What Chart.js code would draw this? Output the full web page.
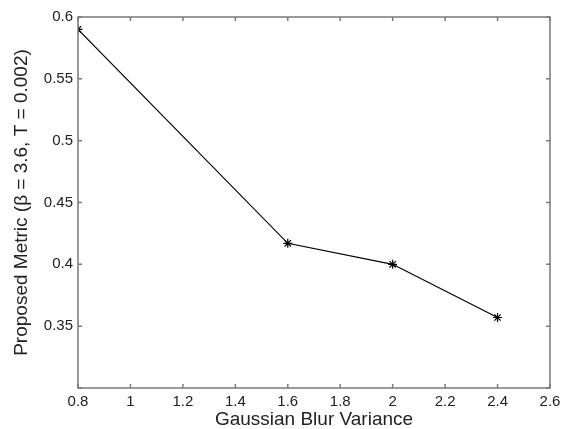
<!DOCTYPE html>
<html>
<head>
<meta charset="utf-8">
<script src="https://cdn.jsdelivr.net/npm/chart.js@4"></script>
<style>
  body { margin: 0; background: #fff; }
  canvas { display: block; }
</style>
</head>
<body>
<canvas id="metricChart" width="561" height="429"></canvas>
<script>
/* blur variance vs. proposed metric */
const blurVariance = [0.8, 1.6, 2.0, 2.4];
const metricValues = [0.590, 0.417, 0.400, 0.357];
const xTicks = [0.8, 1, 1.2, 1.4, 1.6, 1.8, 2, 2.2, 2.4, 2.6];
const yTicks = [0.3, 0.35, 0.4, 0.45, 0.5, 0.55, 0.6];

const FONT = "'Liberation Sans', Arial, sans-serif";
const AXIS_GRAY = "#7a7a7a";

/* box around plot area with inward ticks on all four sides */
const boxTicks = {
  id: "boxTicks",
  afterDraw(chart) {
    const { ctx, chartArea: a, scales } = chart;
    const len = 4;
    ctx.save();
    ctx.strokeStyle = AXIS_GRAY;
    ctx.lineWidth = 1.5;
    ctx.strokeRect(a.left, a.top, a.right - a.left, a.bottom - a.top);
    ctx.beginPath();
    xTicks.forEach(v => {
      const px = scales.x.getPixelForValue(v);
      ctx.moveTo(px, a.bottom); ctx.lineTo(px, a.bottom - len);
      ctx.moveTo(px, a.top); ctx.lineTo(px, a.top + len);
    });
    yTicks.forEach(v => {
      const py = scales.y.getPixelForValue(v);
      ctx.moveTo(a.left, py); ctx.lineTo(a.left + len, py);
      ctx.moveTo(a.right, py); ctx.lineTo(a.right - len, py);
    });
    ctx.stroke();
    ctx.restore();
  }
};

new Chart(document.getElementById("metricChart"), {
  type: "line",
  data: {
    datasets: [{
      data: blurVariance.map((x, i) => ({ x, y: metricValues[i] })),
      borderColor: "#000",
      borderWidth: 1.2,
      pointStyle: "star",
      pointRadius: 4.5,
      pointBorderColor: "#000",
      pointBorderWidth: 1.2,
      tension: 0
    }]
  },
  options: {
    responsive: false,
    animation: false,
    layout: { padding: { top: 17, right: 11, left: 0, bottom: 0 } },
    plugins: { legend: { display: false }, tooltip: { enabled: false } },
    scales: {
      x: {
        type: "linear",
        min: 0.8, max: 2.6,
        afterBuildTicks: s => { s.ticks = xTicks.map(v => ({ value: v })); },
        afterFit: s => { s.height = 41; s.paddingLeft = 0; s.paddingRight = 0; },
        grid: { display: false, drawTicks: false },
        border: { display: false },
        ticks: {
          color: "#222",
          font: { family: FONT, size: 15 },
          padding: 5,
          maxRotation: 0,
          callback: v => String(parseFloat(v.toFixed(2)))
        },
        title: {
          display: true,
          text: "Gaussian Blur Variance",
          color: "#222",
          font: { family: FONT, size: 19, lineHeight: 1 },
          padding: { top: 0, bottom: 0 }
        }
      },
      y: {
        min: 0.3, max: 0.6,
        afterBuildTicks: s => { s.ticks = yTicks.map(v => ({ value: v })); },
        afterFit: s => { s.width = 78; s.paddingTop = 0; s.paddingBottom = 0; },
        grid: { display: false, drawTicks: false },
        border: { display: false },
        ticks: {
          color: "#222",
          font: { family: FONT, size: 15 },
          padding: 5,
          callback: v => (Math.abs(v - 0.3) < 1e-9 ? "" : String(parseFloat(v.toFixed(2))))
        },
        title: {
          display: true,
          text: "Proposed Metric (\u03B2 = 3.6, T = 0.002)",
          color: "#222",
          font: { family: FONT, size: 19 },
          padding: { top: 10, bottom: 0 }
        }
      }
    }
  },
  plugins: [boxTicks]
});
</script>
</body>
</html>
